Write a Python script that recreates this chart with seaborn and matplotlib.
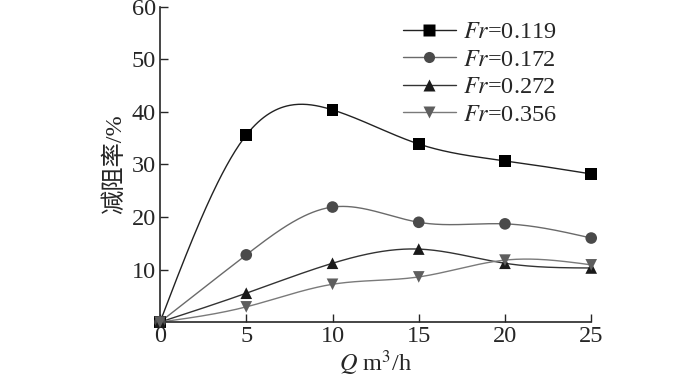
import numpy as np
import pandas as pd
import seaborn as sns
import matplotlib.pyplot as plt
from matplotlib.lines import Line2D

# Flow rate Q (m3/h) and drag reduction (%)
q = [0, 5, 10, 15, 20, 25]
fr_labels = ['0.119', '0.172', '0.272', '0.356']
dr_0119 = [0, 35.6, 40.4, 33.9, 30.7, 28.2]
dr_0172 = [0, 12.8, 21.9, 19.0, 18.7, 16.0]
dr_0272 = [0, 5.5, 11.2, 13.9, 11.2, 10.3]
dr_0356 = [0, 2.9, 7.2, 8.6, 11.8, 10.9]

sns.set_style('ticks')
plt.rcParams['font.family'] = ['Liberation Serif', 'Noto Sans CJK SC']
plt.rcParams['mathtext.fontset'] = 'stix'
plt.rcParams['xtick.direction'] = 'in'
plt.rcParams['ytick.direction'] = 'in'


def natural_spline(x, y, n=300):
    # smooth curve through the measured points (natural cubic spline)
    x = np.asarray(x, float)
    y = np.asarray(y, float)
    k = len(x)
    h = np.diff(x)
    A = np.zeros((k, k))
    b = np.zeros(k)
    A[0, 0] = A[-1, -1] = 1
    for i in range(1, k - 1):
        A[i, i - 1] = h[i - 1]
        A[i, i] = 2 * (h[i - 1] + h[i])
        A[i, i + 1] = h[i]
        b[i] = 3 * ((y[i + 1] - y[i]) / h[i] - (y[i] - y[i - 1]) / h[i - 1])
    c = np.linalg.solve(A, b)
    xs = np.linspace(x[0], x[-1], n)
    idx = np.clip(np.searchsorted(x, xs) - 1, 0, k - 2)
    dx = xs - x[idx]
    bb = (y[1:] - y[:-1]) / h - h * (2 * c[:-1] + c[1:]) / 3
    d = (c[1:] - c[:-1]) / (3 * h)
    ys = y[idx] + bb[idx] * dx + c[idx] * dx ** 2 + d[idx] * dx ** 3
    return xs, ys


series = [dr_0119, dr_0172, dr_0272, dr_0356]
markers = ['s', 'o', '^', 'v']
mcolors = ['#000000', '#4a4a4a', '#1a1a1a', '#5e5e5e']
lcolors = ['#222222', '#6a6a6a', '#333333', '#7a7a7a']

fig = plt.figure(figsize=(7, 3.83), dpi=100)
ax = fig.add_axes([0.2286, 0.159, 0.616, 0.823])

handles = []
for vals, lab, m, mc, lc in zip(series, fr_labels, markers, mcolors, lcolors):
    xs, ys = natural_spline(q, vals)
    ax.plot(xs, ys, color=lc, lw=1.0, zorder=2)
    df = pd.DataFrame({'Q': q, 'DR': vals})
    sns.scatterplot(data=df, x='Q', y='DR', marker=m, color=mc, s=70,
                    edgecolor='none', ax=ax, zorder=3, clip_on=False)
    handles.append(Line2D([], [], color=lc, lw=1.0, marker=m, markersize=8,
                          markerfacecolor=mc, markeredgecolor='none',
                          label=f'$\\mathit{{Fr}}$=' + lab))

ax.set_xlim(0, 25)
ax.set_ylim(0, 60)
ax.set_xticks([0, 5, 10, 15, 20, 25])
ax.set_yticks([10, 20, 30, 40, 50, 60])
ax.tick_params(labelsize=17.5, length=6, width=1, pad=3)
sns.despine(ax=ax)
for s in ['left', 'bottom']:
    ax.spines[s].set_linewidth(1.2)

ax.set_xlabel('$\\mathit{Q}$ m$^3$/h', fontsize=17.5, labelpad=1)
ax.set_ylabel('减阻率/%', fontsize=17.5, labelpad=4)

ax.legend(handles=handles, loc='upper right', bbox_to_anchor=(0.955, 1.0),
          frameon=False, fontsize=17.5, handlelength=2.2, handletextpad=0.3,
          labelspacing=0.22, borderaxespad=0.2)

fig.savefig('out.png', dpi=100)
